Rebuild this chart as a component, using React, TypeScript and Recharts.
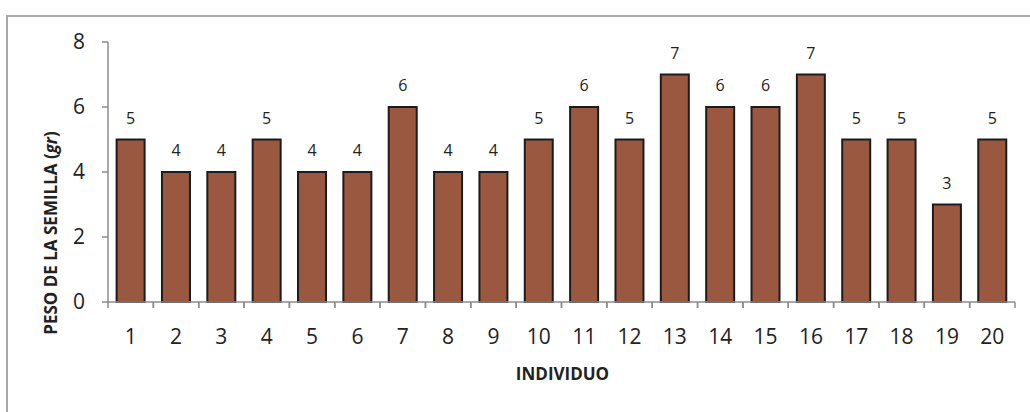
import React from "react";
import { BarChart, Bar, XAxis, YAxis, LabelList } from "recharts";

const categories = ["1","2","3","4","5","6","7","8","9","10","11","12","13","14","15","16","17","18","19","20"];
const pesoValues = [5, 4, 4, 5, 4, 4, 6, 4, 4, 5, 6, 5, 7, 6, 6, 7, 5, 5, 3, 5];
const yTicks = [0, 2, 4, 6, 8];

const data = categories.map((c, i) => ({ individuo: c, peso: pesoValues[i] }));

const FONT = "'Open Sans', 'DejaVu Sans', sans-serif";
const AXIS = "#8c8c8c";

const XTick = (props: any) => {
  const { x, y, payload, width, visibleTicksCount } = props;
  const bw = width && visibleTicksCount ? width / visibleTicksCount : 45.35;
  return (
    <g>
      <line x1={x - bw / 2} y1={y} x2={x - bw / 2} y2={y + 6} stroke={AXIS} strokeWidth={1.5} />
      <line x1={x + bw / 2} y1={y} x2={x + bw / 2} y2={y + 6} stroke={AXIS} strokeWidth={1.5} />
      <text x={x} y={y + 42} textAnchor="middle" fill="#222" fontSize={21} fontFamily={FONT}>
        {payload.value}
      </text>
    </g>
  );
};

const YLabel = (props: any) => {
  const vb = props.viewBox || { x: 0, y: 42, width: 108, height: 260 };
  const cx = vb.x + 57;
  const cy = vb.y + vb.height / 2 + 61;
  return (
    <text
      x={cx}
      y={cy}
      transform={`rotate(-90, ${cx}, ${cy})`}
      textAnchor="middle"
      fill="#222"
      fontSize={17}
      fontWeight="bold"
      fontFamily={FONT}
    >
      PESO DE LA SEMILLA (<tspan fontStyle="italic">gr</tspan>)
    </text>
  );
};

const XLabel = (props: any) => {
  const vb = props.viewBox || { x: 108, y: 302, width: 907, height: 110 };
  return (
    <text
      x={vb.x + vb.width / 2 + 1}
      y={vb.y + 78}
      textAnchor="middle"
      fill="#222"
      fontSize={17}
      fontWeight="bold"
      fontFamily={FONT}
    >
      INDIVIDUO
    </text>
  );
};

export default function App() {
  return (
    <div style={{ position: "absolute", left: 0, top: 0, width: 1030, height: 412, overflow: "hidden", background: "#fff" }}>
      <div
        style={{
          position: "absolute",
          left: 6,
          top: 15,
          width: 1200,
          height: 600,
          borderLeft: "2px solid #a8a8a8",
          borderTop: "2px solid #a8a8a8",
        }}
      />
      <div style={{ position: "absolute", left: 0, top: 0 }}>
        <BarChart
          width={1030}
          height={412}
          data={data}
          margin={{ top: 42, right: 15, left: 0, bottom: 0 }}
          barCategoryGap="19%"
        >
          <XAxis
            dataKey="individuo"
            height={110}
            stroke={AXIS}
            strokeWidth={1.5}
            tickLine={false}
            tickSize={0}
            tickMargin={0}
            interval={0}
            tick={<XTick />}
            label={<XLabel />}
          />
          <YAxis
            width={108}
            domain={[0, 8]}
            ticks={yTicks}
            stroke={AXIS}
            strokeWidth={1.5}
            tickSize={6}
            tickMargin={17}
            tick={{ fill: "#222", fontSize: 21, fontFamily: FONT }}
            label={<YLabel />}
          />
          <Bar dataKey="peso" fill="#9a5840" stroke="#1c1c1c" strokeWidth={2} isAnimationActive={false}>
            <LabelList
              dataKey="peso"
              position="top"
              offset={16}
              fill="#222"
              fontSize={16}
              fontFamily={FONT}
            />
          </Bar>
        </BarChart>
      </div>
    </div>
  );
}
